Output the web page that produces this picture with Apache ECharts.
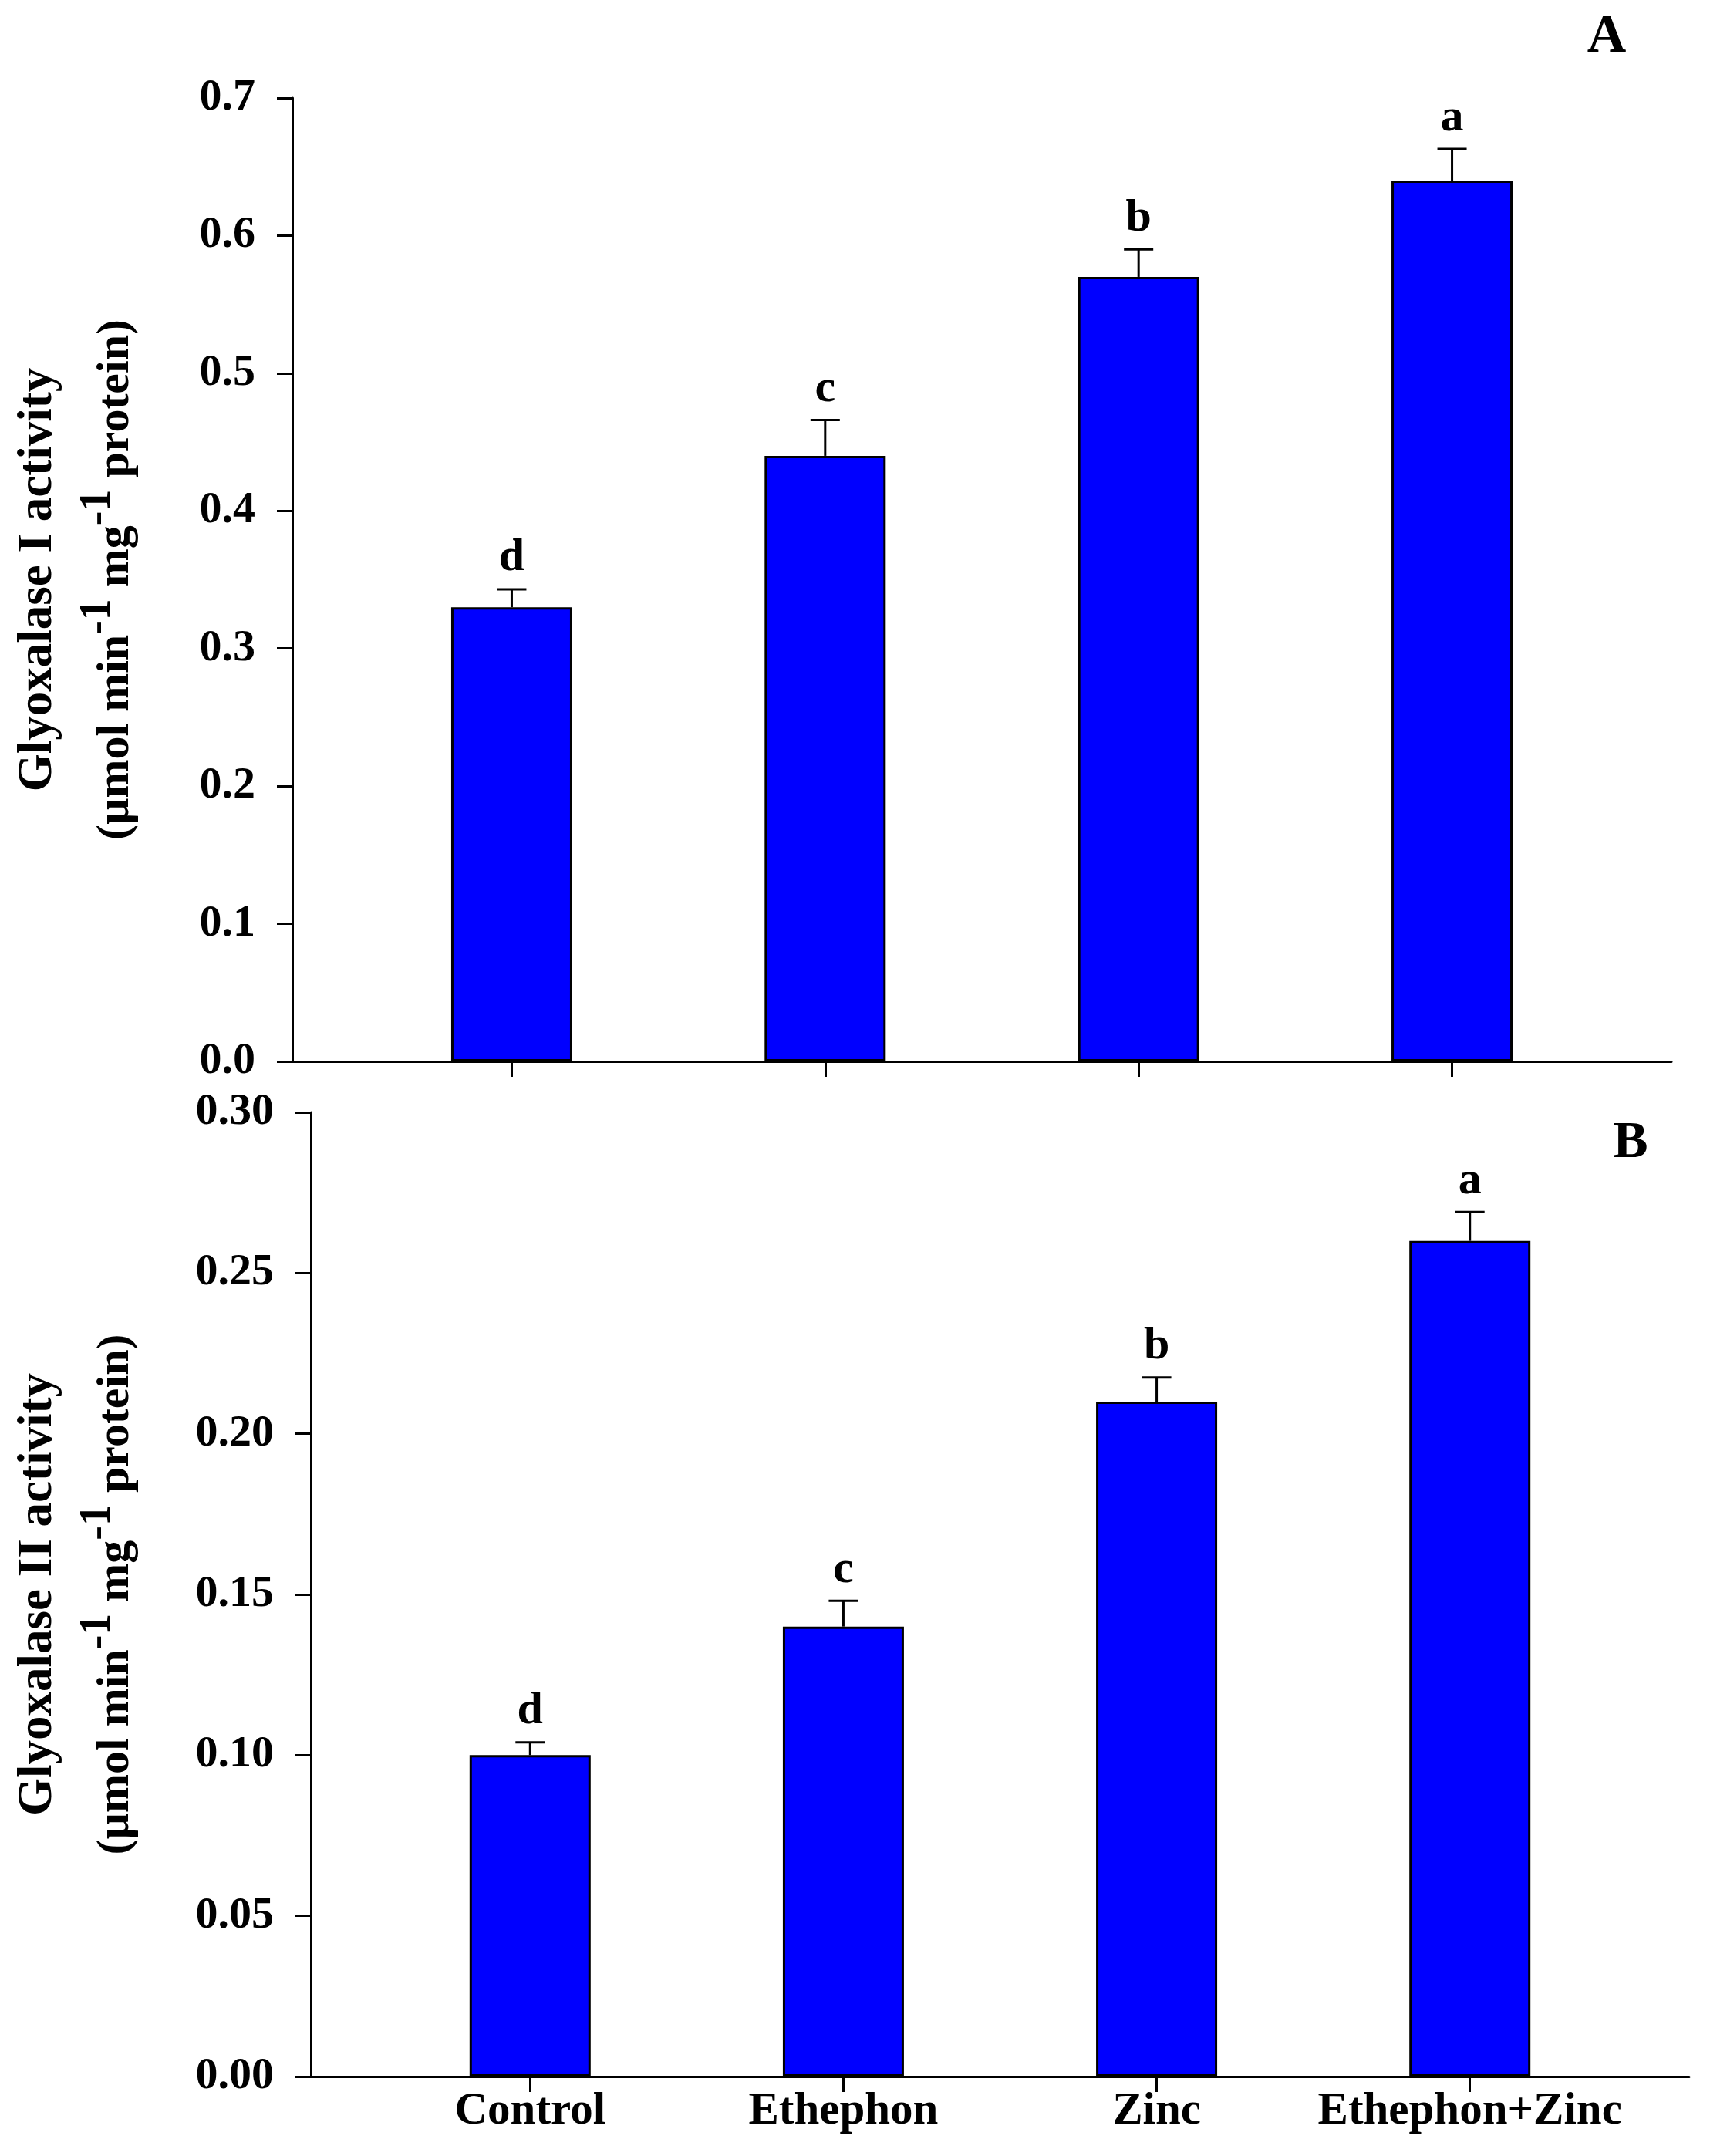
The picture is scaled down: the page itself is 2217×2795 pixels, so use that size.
<!DOCTYPE html>
<html>
<head>
<meta charset="utf-8">
<script src="https://cdn.jsdelivr.net/npm/echarts@6/dist/echarts.min.js"></script>
<style>
html,body{margin:0;padding:0;background:#fff;}
#chart{width:2217px;height:2795px;}
</style>
</head>
<body>
<div id="chart"></div>
<script>
const categories = ['Control', 'Ethephon', 'Zinc', 'Ethephon+Zinc'];
const glyoxalaseI = [0.33, 0.44, 0.57, 0.64];
const glyoxalaseIErr = [0.013, 0.026, 0.020, 0.023];
const glyoxalaseILetters = ['d', 'c', 'b', 'a'];
const glyoxalaseII = [0.10, 0.14, 0.21, 0.26];
const glyoxalaseIIErr = [0.004, 0.008, 0.0075, 0.009];
const glyoxalaseIILetters = ['d', 'c', 'b', 'a'];
const panelLabels = ['A', 'B'];
const yTitleA = 'Glyoxalase I activity';
const yTitleB = 'Glyoxalase II activity';
const unitLine = '(µmol min{sup|-1} mg{sup|-1} protein)';

const FONT = '"Liberation Serif", "Times New Roman", serif';
const chart = echarts.init(document.getElementById('chart'), null, {renderer: 'canvas'});

function xAxisCfg(gridIndex, showLabels) {
  return {
    type: 'value', gridIndex, min: -0.7, max: 3.7,
    splitLine: {show: false},
    axisLine: {show: true, onZero: false, lineStyle: {color: '#000', width: 3}},
    axisTick: {show: true, customValues: [0, 1, 2, 3], length: 20, inside: false, lineStyle: {color: '#000', width: 3}},
    axisLabel: {
      show: showLabels, customValues: [0, 1, 2, 3], margin: 16,
      formatter: v => categories[Math.round(v)] || '',
      fontFamily: FONT, fontWeight: 'bold', fontSize: 59, color: '#000'
    }
  };
}
function yAxisCfg(gridIndex, max, interval, digits, title, gap) {
  return {
    type: 'value', gridIndex, min: 0, max, interval,
    splitLine: {show: false},
    axisLine: {show: true, onZero: false, lineStyle: {color: '#000', width: 3}},
    axisTick: {show: true, length: 20, lineStyle: {color: '#000', width: 3}},
    axisLabel: {
      margin: 48, formatter: v => v.toFixed(digits),
      fontFamily: FONT, fontWeight: 'bold', fontSize: 58, color: '#000'
    },
    name: '{t1|' + title + '}\n' + unitLine,
    nameLocation: 'middle', nameRotate: 90, nameGap: gap,
    nameTextStyle: {
      fontFamily: FONT, fontWeight: 'bold', fontSize: 60, color: '#000',
      lineHeight: 100, align: 'center',
      rich: {
        t1: {fontFamily: FONT, fontWeight: 'bold', fontSize: 63, color: '#000', lineHeight: 100},
        sup: {fontFamily: FONT, fontWeight: 'bold', fontSize: 56, color: '#000', lineHeight: 34, verticalAlign: 'top'}
      }
    }
  };
}
function barSeries(idx, values) {
  return {
    type: 'bar', xAxisIndex: idx, yAxisIndex: idx, barWidth: 157,
    data: values.map((v, i) => [i, v]),
    itemStyle: {color: '#0000ff', borderColor: '#000', borderWidth: 3},
    silent: true, z: 2
  };
}
function errSeries(idx, values, errs, letters) {
  return {
    type: 'custom', xAxisIndex: idx, yAxisIndex: idx, z: 3, silent: true,
    data: values.map((v, i) => [i, v, errs[i]]),
    renderItem: (params, api) => {
      const x = api.value(0), v = api.value(1), e = api.value(2);
      const base = api.coord([x, v]);
      const top = api.coord([x, v + e]);
      const hw = 19;
      return {
        type: 'group',
        children: [
          {type: 'line', shape: {x1: base[0], y1: base[1], x2: top[0], y2: top[1]}, style: {stroke: '#000', lineWidth: 3}},
          {type: 'line', shape: {x1: top[0] - hw, y1: top[1], x2: top[0] + hw, y2: top[1]}, style: {stroke: '#000', lineWidth: 3}},
          {type: 'text', x: top[0], y: top[1] - 10,
            style: {text: letters[params.dataIndex], textAlign: 'center', textVerticalAlign: 'bottom',
              font: 'bold 60px ' + FONT, fill: '#000'}}
        ]
      };
    }
  };
}

const option = {
  backgroundColor: '#fff',
  animation: false,
  grid: [
    {left: 379, top: 127, width: 1788, height: 1249, outerBoundsMode: 'none', containLabel: false},
    {left: 403, top: 1442, width: 1787, height: 1250, outerBoundsMode: 'none', containLabel: false}
  ],
  xAxis: [xAxisCfg(0, false), xAxisCfg(1, true)],
  yAxis: [
    yAxisCfg(0, 0.7, 0.1, 1, yTitleA, 179),
    yAxisCfg(1, 0.30, 0.05, 2, yTitleB, 203)
  ],
  graphic: [
    {type: 'text', x: 2083, y: 49, style: {text: panelLabels[0], textAlign: 'center', textVerticalAlign: 'middle', font: 'bold 70px ' + FONT, fill: '#000'}},
    {type: 'text', x: 2114, y: 1482, style: {text: panelLabels[1], textAlign: 'center', textVerticalAlign: 'middle', font: 'bold 68px ' + FONT, fill: '#000'}}
  ],
  series: [
    barSeries(0, glyoxalaseI),
    errSeries(0, glyoxalaseI, glyoxalaseIErr, glyoxalaseILetters),
    barSeries(1, glyoxalaseII),
    errSeries(1, glyoxalaseII, glyoxalaseIIErr, glyoxalaseIILetters)
  ]
};
chart.setOption(option);
</script>
</body>
</html>
